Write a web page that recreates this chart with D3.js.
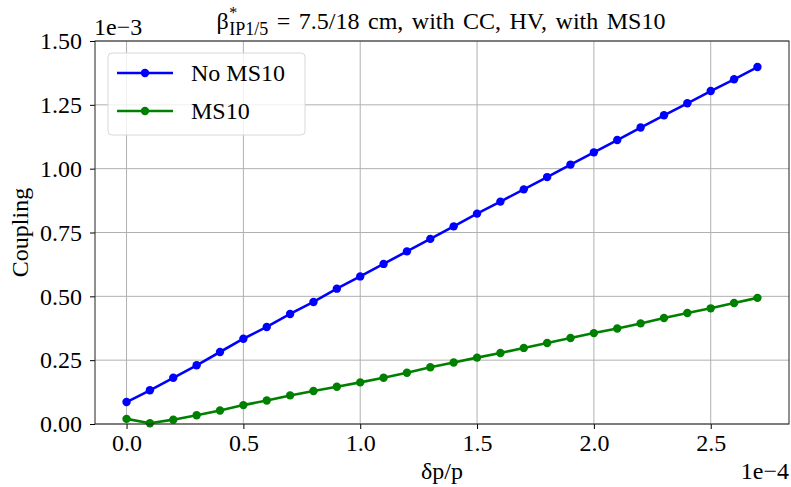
<!DOCTYPE html>
<html>
<head>
<meta charset="utf-8">
<script src="https://cdn.jsdelivr.net/npm/d3@7"></script>
<style>
  body { margin: 0; background: #fff; }
  svg text { font-family: "Liberation Serif", "DejaVu Serif", serif !important; fill: #000; }
</style>
</head>
<body>
<svg id="chart" width="791" height="487" font-family="Liberation Serif"></svg>
<script>
// dp/p values (in units of 1e-4)
const dpp = [0.0, 0.1, 0.2, 0.3, 0.4, 0.5, 0.6, 0.7, 0.8, 0.9,
             1.0, 1.1, 1.2, 1.3, 1.4, 1.5, 1.6, 1.7, 1.8, 1.9,
             2.0, 2.1, 2.2, 2.3, 2.4, 2.5, 2.6, 2.7];

// coupling (in units of 1e-3)
const noMS10 = [0.086, 0.132, 0.181, 0.230, 0.282, 0.334, 0.380, 0.431, 0.478, 0.530,
                0.578, 0.627, 0.676, 0.725, 0.774, 0.824, 0.871, 0.919, 0.967, 1.016,
                1.064, 1.112, 1.161, 1.209, 1.256, 1.304, 1.350, 1.398];
const withMS10 = [0.020, 0.003, 0.017, 0.034, 0.053, 0.074, 0.092, 0.112, 0.129, 0.146,
                  0.163, 0.181, 0.201, 0.222, 0.241, 0.260, 0.278, 0.298, 0.317, 0.337,
                  0.356, 0.374, 0.394, 0.415, 0.435, 0.453, 0.474, 0.494];

const xTicks = [0.0, 0.5, 1.0, 1.5, 2.0, 2.5];
const yTicks = [0.00, 0.25, 0.50, 0.75, 1.00, 1.25, 1.50];

const series = [
  { name: "No MS10", values: noMS10, color: "#0000ff" },
  { name: "MS10", values: withMS10, color: "#008000" }
];

const serif = "Liberation Serif";
const fs = 24;
const margin = { top: 41, right: 2, bottom: 63, left: 95 };
const width = 791, height = 487;
const svg = d3.select("#chart");

const x = d3.scaleLinear().domain([-0.135, 2.835]).range([margin.left, width - margin.right]);
const y = d3.scaleLinear().domain([0, 1.5]).range([height - margin.bottom, margin.top]);

// grid
svg.append("g")
  .selectAll("line")
  .data(xTicks)
  .join("line")
  .attr("x1", d => x(d)).attr("x2", d => x(d))
  .attr("y1", margin.top).attr("y2", height - margin.bottom)
  .attr("stroke", "#b0b0b0").attr("stroke-width", 1);

svg.append("g")
  .selectAll("line")
  .data(yTicks)
  .join("line")
  .attr("x1", margin.left).attr("x2", width - margin.right)
  .attr("y1", d => y(d)).attr("y2", d => y(d))
  .attr("stroke", "#b0b0b0").attr("stroke-width", 1);

// lines
const line = d3.line()
  .x((d, i) => x(dpp[i]))
  .y(d => y(d));

series.forEach(s => {
  svg.append("path")
    .datum(s.values)
    .attr("d", line)
    .attr("fill", "none")
    .attr("stroke", s.color)
    .attr("stroke-width", 2.6);

  svg.append("g")
    .selectAll("circle")
    .data(s.values)
    .join("circle")
    .attr("cx", (d, i) => x(dpp[i]))
    .attr("cy", d => y(d))
    .attr("r", 4.2)
    .attr("fill", s.color);
});

// axes
const xAxis = svg.append("g")
  .attr("transform", `translate(0,${height - margin.bottom})`)
  .call(d3.axisBottom(x).tickValues(xTicks).tickFormat(d3.format(".1f")).tickSize(5).tickPadding(5));
const yAxis = svg.append("g")
  .attr("transform", `translate(${margin.left},0)`)
  .call(d3.axisLeft(y).tickValues(yTicks).tickFormat(d3.format(".2f")).tickSize(5).tickPadding(8));

[xAxis, yAxis].forEach(a => {
  a.attr("font-family", serif).attr("font-size", fs);
  a.select(".domain").remove();
  a.selectAll("text").attr("fill", "#000");
  a.selectAll("line").attr("stroke", "#000");
});
xAxis.selectAll("text").attr("dy", "0.71em");

// frame
svg.append("rect")
  .attr("x", margin.left).attr("y", margin.top)
  .attr("width", width - margin.left - margin.right)
  .attr("height", height - margin.top - margin.bottom)
  .attr("fill", "none").attr("stroke", "#222").attr("stroke-width", 1);

// offset texts
svg.append("text").attr("x", margin.left - 1).attr("y", 35)
  .attr("font-size", fs).text("1e\u22123");
svg.append("text").attr("x", width - margin.right).attr("y", 479)
  .attr("text-anchor", "end").attr("font-size", fs).text("1e\u22124");

// axis labels
svg.append("text").attr("x", 442).attr("y", 479)
  .attr("text-anchor", "middle").attr("font-size", fs).text("\u03b4p/p");
svg.append("text")
  .attr("transform", `translate(28,${(margin.top + height - margin.bottom) / 2}) rotate(-90)`)
  .attr("text-anchor", "middle").attr("font-size", fs).text("Coupling");

// title
const title = svg.append("text").attr("x", 441).attr("y", 28.5)
  .attr("text-anchor", "middle").attr("font-size", fs);
title.append("tspan").text("\u03b2");
title.append("tspan").attr("font-size", 16).attr("dy", -11).attr("dx", 0.5).text("*");
title.append("tspan").attr("font-size", 18).attr("dy", 17.5).attr("dx", -8).text("IP1/5");
title.append("tspan").attr("dy", -6.5).attr("word-spacing", 2.5).text(" = 7.5/18 cm, with CC, HV, with MS10");

// legend
const lg = svg.append("g").attr("transform", "translate(108,53)");
lg.append("rect")
  .attr("width", 197).attr("height", 82).attr("rx", 4)
  .attr("fill", "#fff").attr("fill-opacity", 0.8)
  .attr("stroke", "#d8d8d8").attr("stroke-width", 1);
series.forEach((s, i) => {
  const ry = 20 + i * 38;
  lg.append("line")
    .attr("x1", 9).attr("x2", 65).attr("y1", ry).attr("y2", ry)
    .attr("stroke", s.color).attr("stroke-width", 2.6);
  lg.append("circle").attr("cx", 37).attr("cy", ry).attr("r", 4.2).attr("fill", s.color);
  lg.append("text").attr("x", 83).attr("y", ry + 8)
    .attr("font-size", fs).text(s.name);
});
</script>
</body>
</html>
